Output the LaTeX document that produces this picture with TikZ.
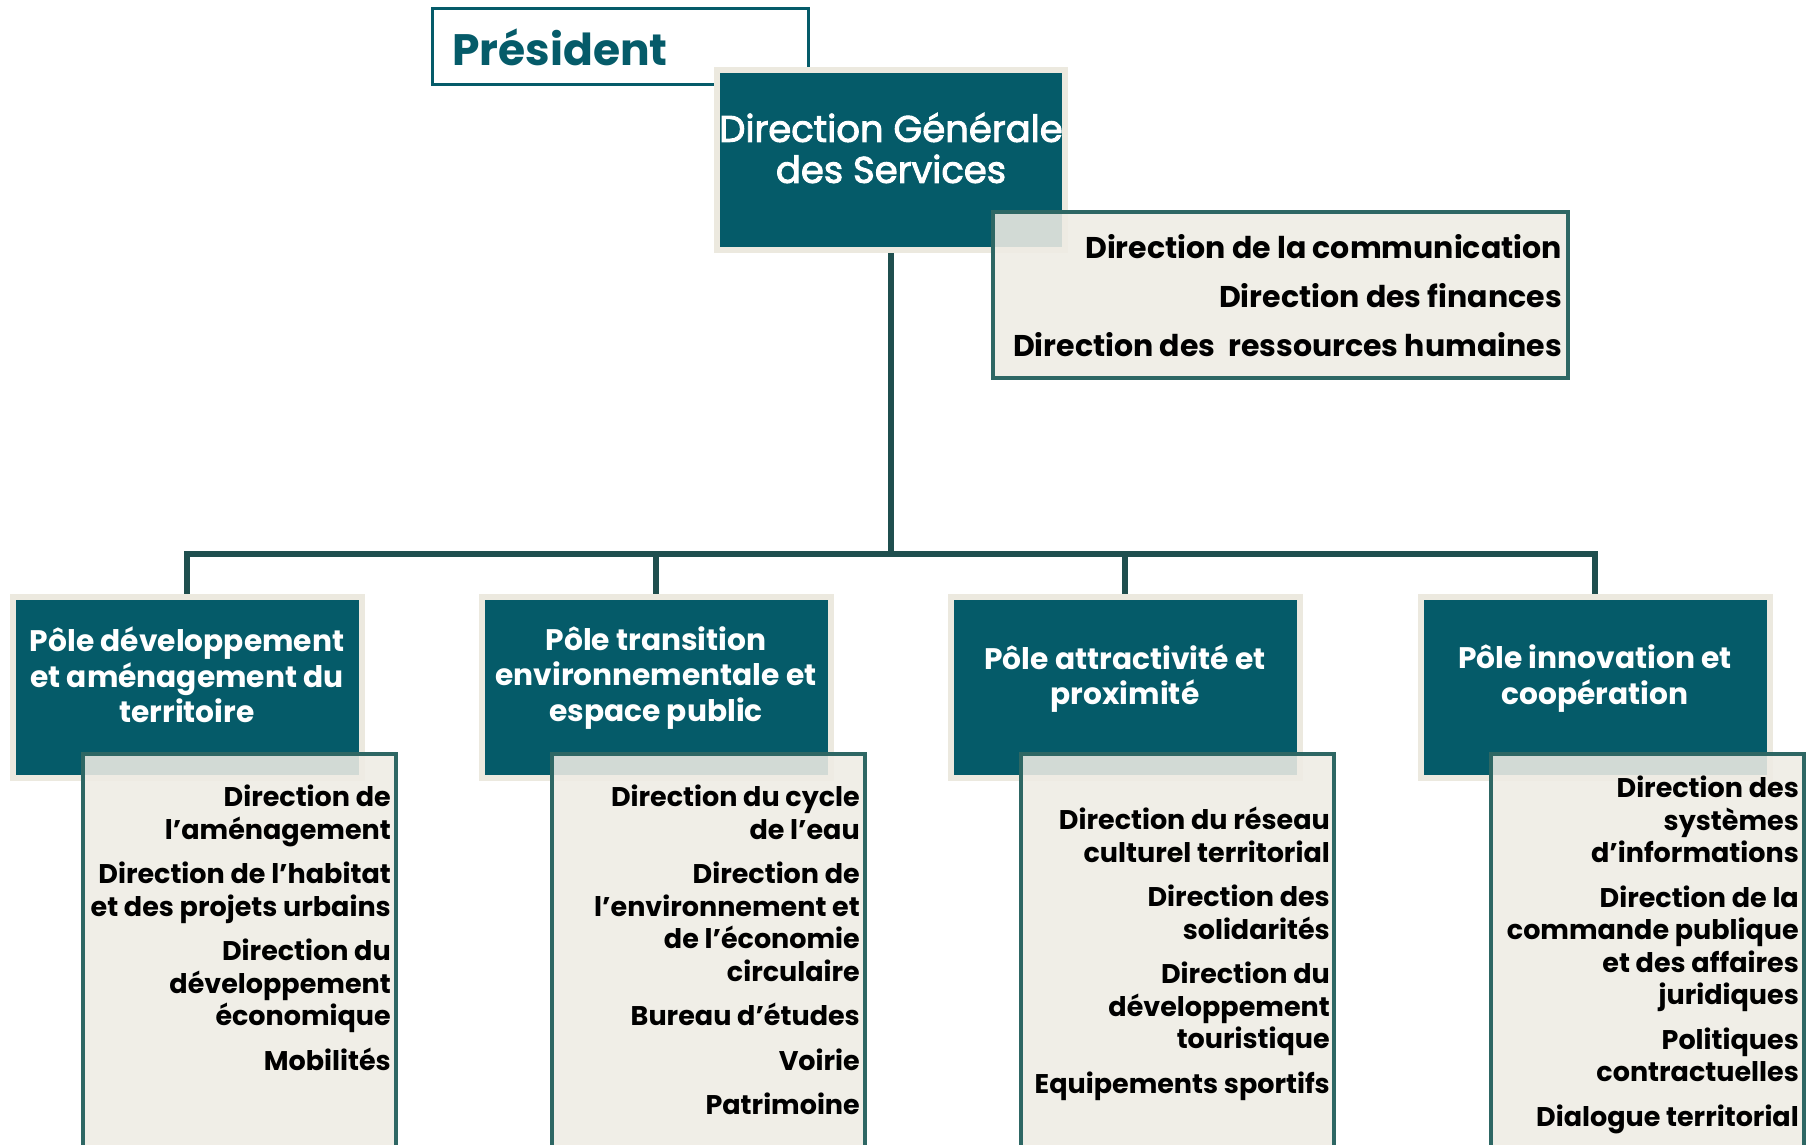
\documentclass[tikz,border=0pt]{standalone}
\usepackage{fontspec}
\setmainfont{Poppins}
\newfontfamily\dgsfont{Poppins}[FakeBold=2.5]
\usetikzlibrary{backgrounds}
\definecolor{tealc}{HTML}{055B69}
\definecolor{rimc}{HTML}{ECE9DF}
\definecolor{beigec}{HTML}{EFECE4}
\definecolor{edgec}{HTML}{2E6764}
\definecolor{connc}{HTML}{1F4F4F}
\tikzset{
  presbox/.style={fill=white, draw=tealc, line width=3pt, minimum width=376pt, minimum height=76pt, inner sep=0pt},
  prestext/.style={text=tealc, font=\bfseries\fontsize{44}{50}\selectfont, inner sep=0pt},
  rimbox/.style={fill=tealc, draw=rimc, line width=6pt, minimum width=349pt, minimum height=181pt, inner sep=0pt},
  dgsbox/.style={rimbox, minimum width=348pt, minimum height=180pt},
  dgstext/.style={text=white, font=\dgsfont\fontsize{37}{41}\selectfont, align=center, inner sep=0pt},
  listbox/.style={fill=beigec, fill opacity=0.88, draw=edgec, draw opacity=1, line width=4pt, inner sep=0pt},
  subbox/.style={listbox, minimum width=313pt, minimum height=416pt},
  topbox/.style={listbox, minimum width=575pt, minimum height=166pt},
  poletext/.style={text=white, font=\bfseries\fontsize{29.7}{35.5}\selectfont, align=center, inner sep=0pt},
  subtext/.style={text=black, font=\bfseries\fontsize{27}{32.5}\selectfont, align=right, anchor=north east, inner sep=0pt},
  toptext/.style={text=black, font=\bfseries\fontsize{30}{49}\selectfont, align=right, anchor=north east, inner sep=0pt},
  conn/.style={draw=connc, line width=5.5pt},
}
\begin{document}
\begin{tikzpicture}[x=1pt,y=-1pt]
\clip (0,0) rectangle (1818,1144);
% top
\node[presbox] (pres) at (620.5,46.5) {};
\node[prestext, anchor=west] (prest) at (452,47) {Président};
\node[dgsbox] (dgs) at (891,160) {};
\node[dgstext] (dgst) at (891,148) {Direction Générale\\des Services};
\node[topbox] (staff) at (1280.5,295) {};
\node[toptext] (stafft) at (1562,234) {Direction de la communication\\Direction des finances\\Direction des\ \ ressources humaines};
% poles
\node[rimbox] (p1) at (187,687.5) {};
\node[rimbox] (p2) at (656,687.5) {};
\node[rimbox] (p3) at (1125,687.5) {};
\node[rimbox] (p4) at (1595,687.5) {};
\node[poletext] (p1t) at (187,675) {Pôle développement\\et aménagement du\\territoire};
\node[poletext] (p2t) at (656,678) {Pôle transition\\environnementale et\\espace public};
\node[poletext] (p3t) at (1125,678.5) {Pôle attractivité et\\proximité};
\node[poletext] (p4t) at (1595,678.5) {Pôle innovation et\\coopération};
% sub boxes
\node[subbox] (s1) at (239.5,962) {};
\node[subbox] (s2) at (708.5,962) {};
\node[subbox] (s3) at (1177.5,962) {};
\node[subbox] (s4) at (1647.5,962) {};
\node[subtext] (s1t) at (391,785) {Direction de\\l’aménagement\\[12pt]Direction de l’habitat\\et des projets urbains\\[12pt]Direction du\\développement\\économique\\[12pt]Mobilités};
\node[subtext] (s2t) at (860,785) {Direction du cycle\\de l’eau\\[12pt]Direction de\\l’environnement et\\de l’économie\\circulaire\\[12pt]Bureau d’études\\[12pt]Voirie\\[12pt]Patrimoine};
\node[subtext] (s3t) at (1330,807) {Direction du réseau\\culturel territorial\\[12pt]Direction des\\solidarités\\[12pt]Direction du\\développement\\touristique\\[12pt]Equipements sportifs};
\node[subtext] (s4t) at (1799,776) {Direction des\\systèmes\\d’informations\\[12pt]Direction de la\\commande publique\\et des affaires\\juridiques\\[12pt]Politiques\\contractuelles\\[12pt]Dialogue territorial};
% connectors and page background
\begin{scope}[on background layer]
\fill[white] (0,0) rectangle (1818,1144);
\coordinate (bus) at (891,554);
\draw[conn] (dgs.south) -- (bus);
\draw[conn] (p1.north) |- (bus);
\draw[conn] (p2.north) |- (bus);
\draw[conn] (p3.north) |- (bus);
\draw[conn] (p4.north) |- (bus);
\end{scope}
\end{tikzpicture}
\end{document}
